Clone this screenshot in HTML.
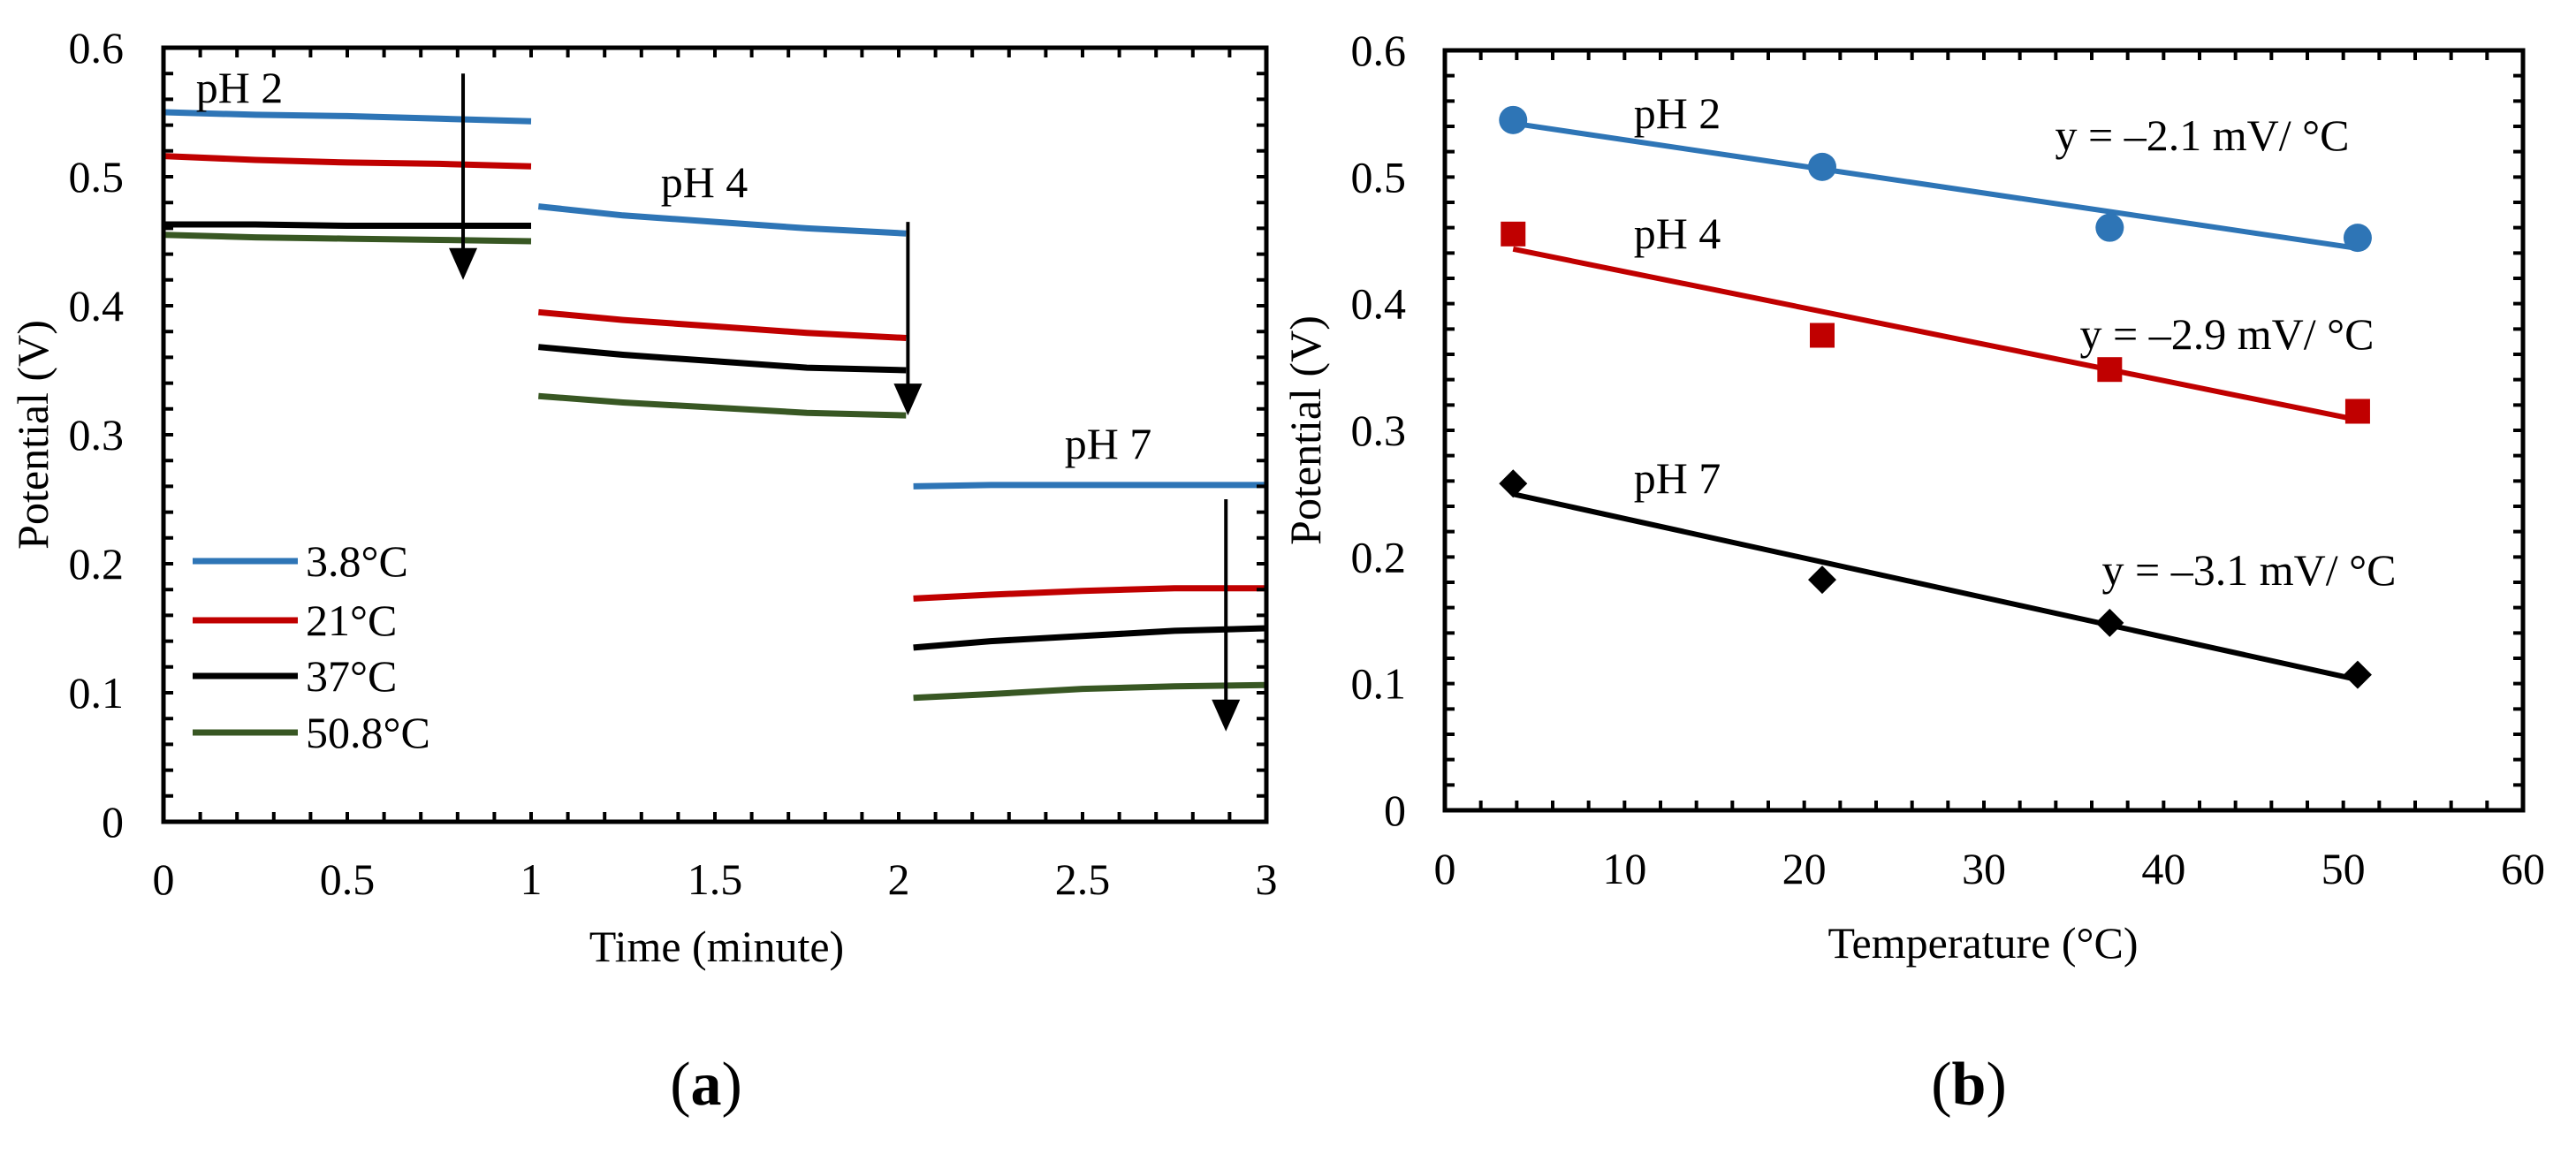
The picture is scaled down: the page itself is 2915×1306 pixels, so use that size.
<!DOCTYPE html>
<html><head><meta charset="utf-8"><style>
html,body{margin:0;padding:0;background:#fff}
svg{display:block;font-family:"Liberation Serif",serif}
</style></head><body>
<svg id="c" width="2915" height="1306" viewBox="0 0 2915 1306" xmlns="http://www.w3.org/2000/svg"></svg>
<script>
// ---- Chart (a) data ----
const aTimes1 = [0, 0.25, 0.5, 0.75, 1.0];
const aTimes2 = [1.02, 1.25, 1.5, 1.75, 2.02];
const aTimes3 = [2.04, 2.25, 2.5, 2.75, 3.0];
const aSeriesNames = ["3.8°C", "21°C", "37°C", "50.8°C"];
const aBlue = [0.550, 0.548, 0.547, 0.545, 0.543, 0.477, 0.470, 0.465, 0.460, 0.456, 0.260, 0.261, 0.261, 0.261, 0.261];
const aRed = [0.516, 0.513, 0.511, 0.510, 0.508, 0.395, 0.389, 0.384, 0.379, 0.375, 0.173, 0.176, 0.179, 0.181, 0.181];
const aBlack = [0.463, 0.463, 0.462, 0.462, 0.462, 0.368, 0.362, 0.357, 0.352, 0.350, 0.135, 0.140, 0.144, 0.148, 0.150];
const aGreen = [0.455, 0.453, 0.452, 0.451, 0.450, 0.330, 0.325, 0.321, 0.317, 0.315, 0.096, 0.099, 0.103, 0.105, 0.106];
const aXTicks = ["0", "0.5", "1", "1.5", "2", "2.5", "3"];
const aYTicks = ["0", "0.1", "0.2", "0.3", "0.4", "0.5", "0.6"];
// ---- Chart (b) data ----
const bTemps = [3.8, 21, 37, 50.8];
const bPH2 = [0.545, 0.508, 0.460, 0.452];
const bPH4 = [0.455, 0.375, 0.348, 0.315];
const bPH7 = [0.258, 0.182, 0.148, 0.107];
const bXTicks = ["0", "10", "20", "30", "40", "50", "60"];
const bYTicks = ["0", "0.1", "0.2", "0.3", "0.4", "0.5", "0.6"];

const NS = "http://www.w3.org/2000/svg";
const svg = document.getElementById("c");
function mk(tag, attrs, parent, text) {
  const e = document.createElementNS(NS, tag);
  for (const k in attrs) e.setAttribute(k, attrs[k]);
  if (text !== undefined) e.textContent = text;
  (parent || svg).appendChild(e);
  return e;
}
const COL = {blue: "#2E75B6", red: "#C00000", black: "#000000", green: "#385723"};

// ===== Chart A =====
const A = {l: 185, r: 1433, t: 54, b: 930};
const ax = t => A.l + (t / 3) * (A.r - A.l);
const ay = v => A.b - (v / 0.6) * (A.b - A.t);
const gA = mk("g", {});



const allTimes = aTimes1.concat(aTimes2, aTimes3);
const aSeries = [[aBlue, COL.blue], [aRed, COL.red], [aBlack, COL.black], [aGreen, COL.green]];
aSeries.forEach((s, si) => {
  for (let seg = 0; seg < 3; seg++) {
    let d = "";
    for (let i = seg * 5; i < seg * 5 + 5; i++) {
      d += (i === seg * 5 ? "M" : "L") + ax(allTimes[i]).toFixed(1) + "," + ay(s[0][i]).toFixed(1);
    }
    const p = mk("path", {d: d, fill: "none", stroke: s[1], "stroke-width": 7}, gA);
    
    
  }
});

// frame and ticks
const frA = mk("rect", {x: A.l, y: A.t, width: A.r - A.l, height: A.b - A.t, fill: "none", stroke: "#000", "stroke-width": 5}, gA);


let tk = "";
for (let i = 1; i < 30; i++) { const x = ax(i * 0.1); tk += `M${x},${A.b}v-11M${x},${A.t}v11`; }
for (let i = 1; i < 30; i++) { const y = ay(i * 0.02); tk += `M${A.l},${y}h11M${A.r},${y}h-11`; }
const tA = mk("path", {d: tk, stroke: "#000", "stroke-width": 4, fill: "none"}, gA);



aXTicks.forEach(s => {
  const t = mk("text", {x: ax(parseFloat(s)), y: 1012, "font-size": 50, "text-anchor": "middle"}, gA, s);
  
  
});
aYTicks.forEach(s => {
  const t = mk("text", {x: 140, y: ay(parseFloat(s)) + 17, "font-size": 50, "text-anchor": "end"}, gA, s);
  
  
});
const xtA = mk("text", {x: 811, y: 1088, "font-size": 50, "text-anchor": "middle"}, gA, "Time (minute)");


const ytA = mk("text", {x: 0, y: 0, "font-size": 50, "text-anchor": "middle", transform: "translate(54,492) rotate(-90)"}, gA, "Potential (V)");



[["pH 2", 271, 116], ["pH 4", 797, 223], ["pH 7", 1254, 519]].forEach(l => {
  const t = mk("text", {x: l[1], y: l[2], "font-size": 50, "text-anchor": "middle"}, gA, l[0]);
  
  
});
// arrows
[[0.815, 0.58, 0.42], [2.025, 0.465, 0.315], [2.89, 0.25, 0.07]].forEach((a, i) => {
  const x = ax(a[0]), y1 = ay(a[1]), y2 = ay(a[2]);
  const g = mk("g", {}, gA);
  
  
  mk("line", {x1: x, y1: y1, x2: x, y2: y2 - 30, stroke: "#000", "stroke-width": 4}, g);
  mk("path", {d: `M${x - 16},${y2 - 36}L${x + 16},${y2 - 36}L${x},${y2}Z`, fill: "#000"}, g);
});
// legend
const legY = [635, 702, 765, 829];
aSeries.forEach((s, i) => {
  const g = mk("g", {}, gA);
  
  
  mk("line", {x1: 218, x2: 337, y1: legY[i], y2: legY[i], stroke: s[1], "stroke-width": 7}, g);
  mk("text", {x: 346, y: legY[i] + 17, "font-size": 50}, g, aSeriesNames[i]);
});
const capA = mk("text", {x: 799, y: 1250, "font-size": 70, "text-anchor": "middle"}, gA);


capA.innerHTML = '(<tspan font-weight="bold">a</tspan>)';

// ===== Chart B =====
const B = {l: 1635, r: 2855, t: 57, b: 917};
const bx = t => B.l + (t / 60) * (B.r - B.l);
const by = v => B.b - (v / 0.6) * (B.b - B.t);
const gB = mk("g", {});



function fit(xs, ys) {
  const n = xs.length, mx = xs.reduce((a, b) => a + b) / n, my = ys.reduce((a, b) => a + b) / n;
  let sxy = 0, sxx = 0;
  for (let i = 0; i < n; i++) { sxy += (xs[i] - mx) * (ys[i] - my); sxx += (xs[i] - mx) ** 2; }
  const m = sxy / sxx; return [m, my - m * mx];
}
const bSeries = [[bPH2, COL.blue, "circle", "ph2"], [bPH4, COL.red, "square", "ph4"], [bPH7, COL.black, "diamond", "ph7"]];
bSeries.forEach(s => {
  const [m, c] = fit(bTemps, s[0]);
  const x0 = bTemps[0], x1 = bTemps[bTemps.length - 1];
  const ln = mk("line", {x1: bx(x0), y1: by(m * x0 + c), x2: bx(x1), y2: by(m * x1 + c), stroke: s[1], "stroke-width": 6}, gB);
  
  
  s[0].forEach((v, i) => {
    const x = bx(bTemps[i]), y = by(v);
    let e;
    if (s[2] === "circle") e = mk("circle", {cx: x, cy: y, r: 16, fill: s[1]}, gB);
    else if (s[2] === "square") e = mk("rect", {x: x - 14, y: y - 14, width: 28, height: 28, fill: s[1]}, gB);
    else e = mk("path", {d: `M${x},${y - 16}L${x + 16},${y}L${x},${y + 16}L${x - 16},${y}Z`, fill: s[1]}, gB);
    
    
  });
});
const frB = mk("rect", {x: B.l, y: B.t, width: B.r - B.l, height: B.b - B.t, fill: "none", stroke: "#000", "stroke-width": 5}, gB);


tk = "";
for (let i = 1; i < 30; i++) { const x = bx(i * 2); tk += `M${x},${B.b}v-11M${x},${B.t}v11`; }
for (let i = 1; i < 30; i++) { const y = by(i * 0.02); tk += `M${B.l},${y}h11M${B.r},${y}h-11`; }
const tB = mk("path", {d: tk, stroke: "#000", "stroke-width": 4, fill: "none"}, gB);


bXTicks.forEach(s => {
  const t = mk("text", {x: bx(parseFloat(s)), y: 1000, "font-size": 50, "text-anchor": "middle"}, gB, s);
  
  
});
bYTicks.forEach(s => {
  const t = mk("text", {x: 1591, y: by(parseFloat(s)) + 17, "font-size": 50, "text-anchor": "end"}, gB, s);
  
  
});
const xtB = mk("text", {x: 2244, y: 1084, "font-size": 50, "text-anchor": "middle"}, gB, "Temperature (°C)");


const ytB = mk("text", {x: 0, y: 0, "font-size": 50, "text-anchor": "middle", transform: "translate(1494,487) rotate(-90)"}, gB, "Potential (V)");


[["pH 2", 1898, 145], ["pH 4", 1898, 281], ["pH 7", 1898, 558],
 ["y = –2.1 mV/ °C", 2492, 170], ["y = –2.9 mV/ °C", 2520, 395], ["y = –3.1 mV/ °C", 2545, 662]].forEach(l => {
  const t = mk("text", {x: l[1], y: l[2], "font-size": 50, "text-anchor": "middle"}, gB, l[0]);
  
  
});
const capB = mk("text", {x: 2228, y: 1250, "font-size": 70, "text-anchor": "middle"}, gB);


capB.innerHTML = '(<tspan font-weight="bold">b</tspan>)';
</script>
</body></html>
